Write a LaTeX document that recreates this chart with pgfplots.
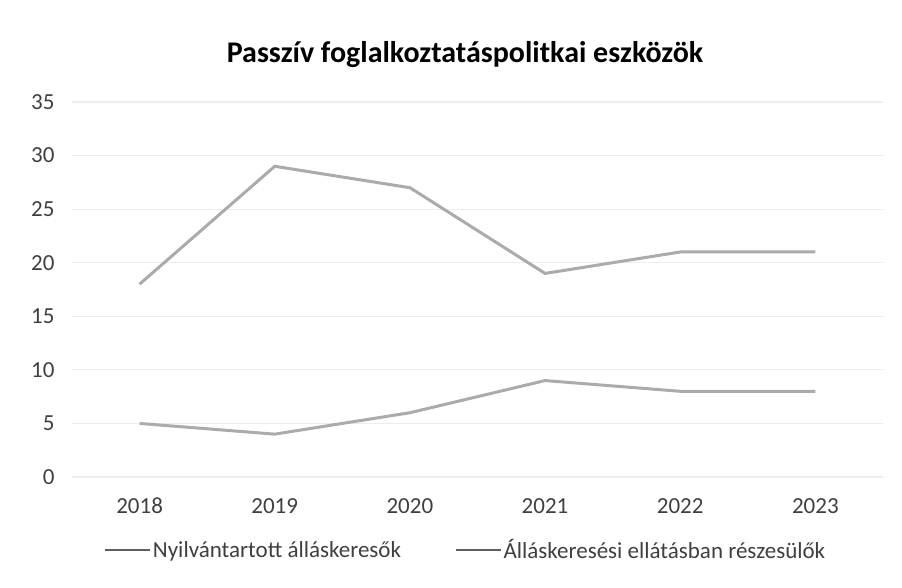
\documentclass[border=0pt]{standalone}
\usepackage{pgfplots}
\pgfplotsset{compat=1.18}
\usepackage{fontspec}
\setmainfont{Carlito}
\definecolor{lline}{HTML}{ABABAB}
\definecolor{legline}{HTML}{5E5E5E}
\definecolor{ticktxt}{HTML}{3F3F3F}
\definecolor{gridc}{HTML}{EDEDED}

\begin{document}
\begin{tikzpicture}[x=1pt,y=1pt]
\path[use as bounding box] (0,0) rectangle (902,587);
\node[font=\fontsize{30}{34}\selectfont\bfseries, text=black] at (465,532) {Passzív foglalkoztatáspolitkai eszközök};
\begin{axis}[
    at={(72pt,110pt)}, anchor=south west,
    scale only axis,
    width=811pt, height=375pt,
    xmin=2017.5, xmax=2023.5,
    ymin=0, ymax=35,
    xtick={2018,...,2023},
    ytick={0,5,...,35},
    x tick label style={/pgf/number format/1000 sep={}},
    /pgf/number format/assume math mode=true,
    ticklabel style={font=\fontsize{23}{27}\selectfont, text=ticktxt},
    xticklabel style={anchor=base, yshift=-36pt},
    yticklabel style={xshift=-14pt},
    axis line style={draw=none},
    major tick length=0pt,
    ymajorgrids=true,
    grid style={gridc, line width=1.2pt},
    legend columns=2,
    legend style={at={(0.485,-0.195)}, anchor=center, draw=none, fill=none,
        font=\fontsize{23}{27}\selectfont, text=ticktxt,
        nodes={inner sep=1.5pt},
        /tikz/every even column/.append style={column sep=52pt}},
    legend image code/.code={\draw[legline, line width=2.5pt] (0pt,0pt) -- (45pt,0pt);},
]
\addplot[lline, line width=3pt] coordinates {
    (2018,18) (2019,29) (2020,27) (2021,19) (2022,21) (2023,21)};
\addlegendentry{Nyilvántartott álláskeresők}
\addplot[lline, line width=3pt] coordinates {
    (2018,5) (2019,4) (2020,6) (2021,9) (2022,8) (2023,8)};
\addlegendentry{Álláskeresési ellátásban részesülők}
\end{axis}
\end{tikzpicture}
\end{document}
